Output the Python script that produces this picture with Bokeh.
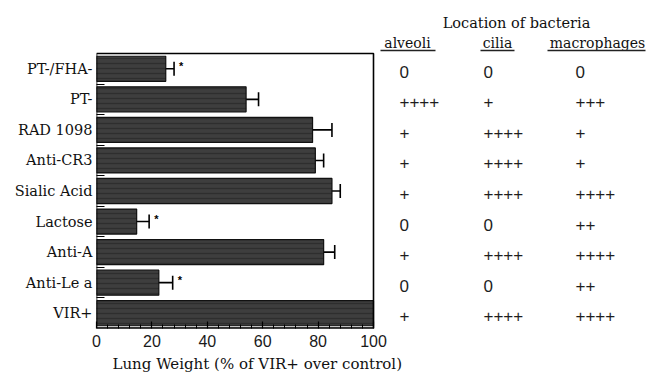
from bokeh.plotting import figure
from bokeh.models import (Range1d, FixedTicker, Whisker, ColumnDataSource, TeeHead, Title)
from bokeh.embed import file_html
from bokeh.resources import INLINE
from bokeh.core.properties import value

# ---------------- data ----------------
groups = ["PT-/FHA-", "PT-", "RAD 1098", "Anti-CR3", "Sialic Acid",
          "Lactose", "Anti-A", "Anti-Le a", "VIR+"]
lung_weight = [25, 54, 78, 79, 85, 14.5, 82, 22.5, 100]
errors = [3, 4.5, 7, 3, 3, 4.5, 4, 5, 0]
significant = [True, False, False, False, False, True, False, True, False]
alveoli = ["0", "++++", "+", "+", "+", "0", "+", "0", "+"]
cilia = ["0", "+", "++++", "++++", "++++", "0", "++++", "0", "++++"]
macrophages = ["0", "+++", "+", "+", "++++", "++", "++++", "++", "++++"]
column_names = ["alveoli", "cilia", "macrophages"]
table_title = "Location of bacteria"
x_label = "Lung Weight (% of VIR+ over control)"
x_ticks = [0, 20, 40, 60, 80, 100]

SERIF = "DejaVu Serif"
SANS = "Liberation Sans"

n = len(groups)
idx = list(range(n))
x_max = x_ticks[-1]

# ---------------- layout constants (pixels) ----------------
W, H = 646, 377
FL, FR, FT, FB = 96, 373, 53, 328     # bar-chart box edges
TOP = 4                               # top of drawing frame
ppr = (FB - FT) / n                   # pixels per row
ppx = (FR - FL) / x_max               # pixels per x unit


def x_of(px):
    return (px - FL) / ppx


def y_of(py):
    return -0.5 + (py - FT) / ppr


p = figure(width=W, height=H, output_backend="svg", toolbar_location=None,
           x_range=Range1d(0, x_of(W)), y_range=Range1d(n - 0.5, y_of(TOP)),
           min_border_left=FL, min_border_right=0, min_border_top=TOP,
           min_border_bottom=H - FB)
p.background_fill_color = "white"
p.border_fill_color = "white"
p.outline_line_color = None
p.grid.visible = False

# bars
src = ColumnDataSource(dict(y=idx, v=lung_weight))
p.hbar(y="y", left=0, right="v", height=0.82, source=src,
       fill_color="#3e3e3e", line_color="#111111", line_width=1.2,
       hatch_pattern="horizontal_line", hatch_color="#2e2e2e",
       hatch_scale=5, hatch_weight=1.5)

# box around the bar chart
p.quad(left=[0], right=[x_max], bottom=[n - 0.5], top=[-0.5],
       fill_color=None, line_color="black", line_width=1.6)
p.segment(x0=[0], x1=[x_max], y0=[n - 0.5], y1=[n - 0.5],
          line_color="black", line_width=2.4)

# error bars
eb_y = [i for i in idx if errors[i] > 0]
eb = ColumnDataSource(dict(
    y=eb_y,
    lower=[lung_weight[i] - errors[i] for i in eb_y],
    upper=[lung_weight[i] + errors[i] for i in eb_y]))
w = Whisker(base="y", lower="lower", upper="upper", dimension="width",
            source=eb, line_color="black", line_width=1.6,
            upper_head=TeeHead(size=14, line_color="black", line_width=1.6),
            lower_head=TeeHead(size=1, line_color="#222222", line_width=0.5))
p.add_layout(w)

# significance asterisks
sig_y = [i for i in idx if significant[i]]
ast = ColumnDataSource(dict(
    x=[lung_weight[i] + errors[i] for i in sig_y], y=sig_y,
    t=["*"] * len(sig_y)))
p.text(x="x", y="y", text="t", source=ast, x_offset=5, y_offset=-3,
       text_font=value(SANS), text_font_size="11px", text_font_style="bold",
       text_baseline="middle", text_align="left", text_color="black")

# x axis
p.xaxis.ticker = FixedTicker(ticks=x_ticks,
                             minor_ticks=[t + k * 4 for t in x_ticks[:-1] for k in range(1, 5)])
p.xaxis.major_tick_in = 7
p.xaxis.major_tick_out = 0
p.xaxis.minor_tick_in = 4
p.xaxis.minor_tick_out = 0
p.xaxis.axis_line_color = None
p.xaxis.major_tick_line_width = 1.2
p.xaxis.major_label_text_font = SANS
p.xaxis.major_label_text_font_size = "16px"
p.xaxis.major_label_text_color = "#1a1a1a"
p.xaxis.major_label_standoff = 6

# x label as a left-aligned title below the axis
p.add_layout(Title(text=x_label, align="left", offset=16, standoff=7,
                   text_font=SERIF, text_font_size="15px",
                   text_font_style="normal", text_color="#111111"), "below")

# y axis (category labels)
p.yaxis.ticker = FixedTicker(ticks=idx, minor_ticks=[i + 0.5 for i in idx[:-1]])
p.yaxis.major_label_overrides = {i: g for i, g in zip(idx, groups)}
p.yaxis.major_tick_in = 0
p.yaxis.major_tick_out = 0
p.yaxis.minor_tick_in = 8
p.yaxis.minor_tick_out = 0
p.yaxis.axis_line_color = None
p.yaxis.major_label_text_font = SERIF
p.yaxis.major_label_text_font_size = "14.5px"
p.yaxis.major_label_text_color = "#111111"
p.yaxis.major_label_standoff = 4

# ---------------- right: table of bacteria locations ----------------
col_px = [399, 483, 575]
head_px = [407, 497, 597]
ul_px = [(380, 435), (480, 514), (547, 645)]

for cx, vals in zip(col_px, [alveoli, cilia, macrophages]):
    s = ColumnDataSource(dict(x=[x_of(cx)] * n, y=idx, t=vals))
    p.text(x="x", y="y", text="t", source=s, y_offset=3,
           text_font=value(SANS), text_font_size="17px",
           text_baseline="middle", text_align="left", text_color="#1e1e1e")

hs = ColumnDataSource(dict(x=[x_of(h) for h in head_px], y=[y_of(42.5)] * 3,
                           t=column_names))
p.text(x="x", y="y", text="t", source=hs, text_font=value(SERIF),
       text_font_size="14px", text_baseline="middle",
       text_align="center", text_color="#111111")
p.segment(x0=[x_of(a) for a, b in ul_px], x1=[x_of(b) for a, b in ul_px],
          y0=[y_of(50)] * 3, y1=[y_of(50)] * 3,
          line_color="#222222", line_width=1.3)

ts = ColumnDataSource(dict(x=[x_of(516)], y=[y_of(22)], t=[table_title]))
p.text(x="x", y="y", text="t", source=ts, text_font=value(SERIF),
       text_font_size="14.5px", text_baseline="middle",
       text_align="center", text_color="#111111")

open("out.html", "w").write(file_html(p, INLINE))
